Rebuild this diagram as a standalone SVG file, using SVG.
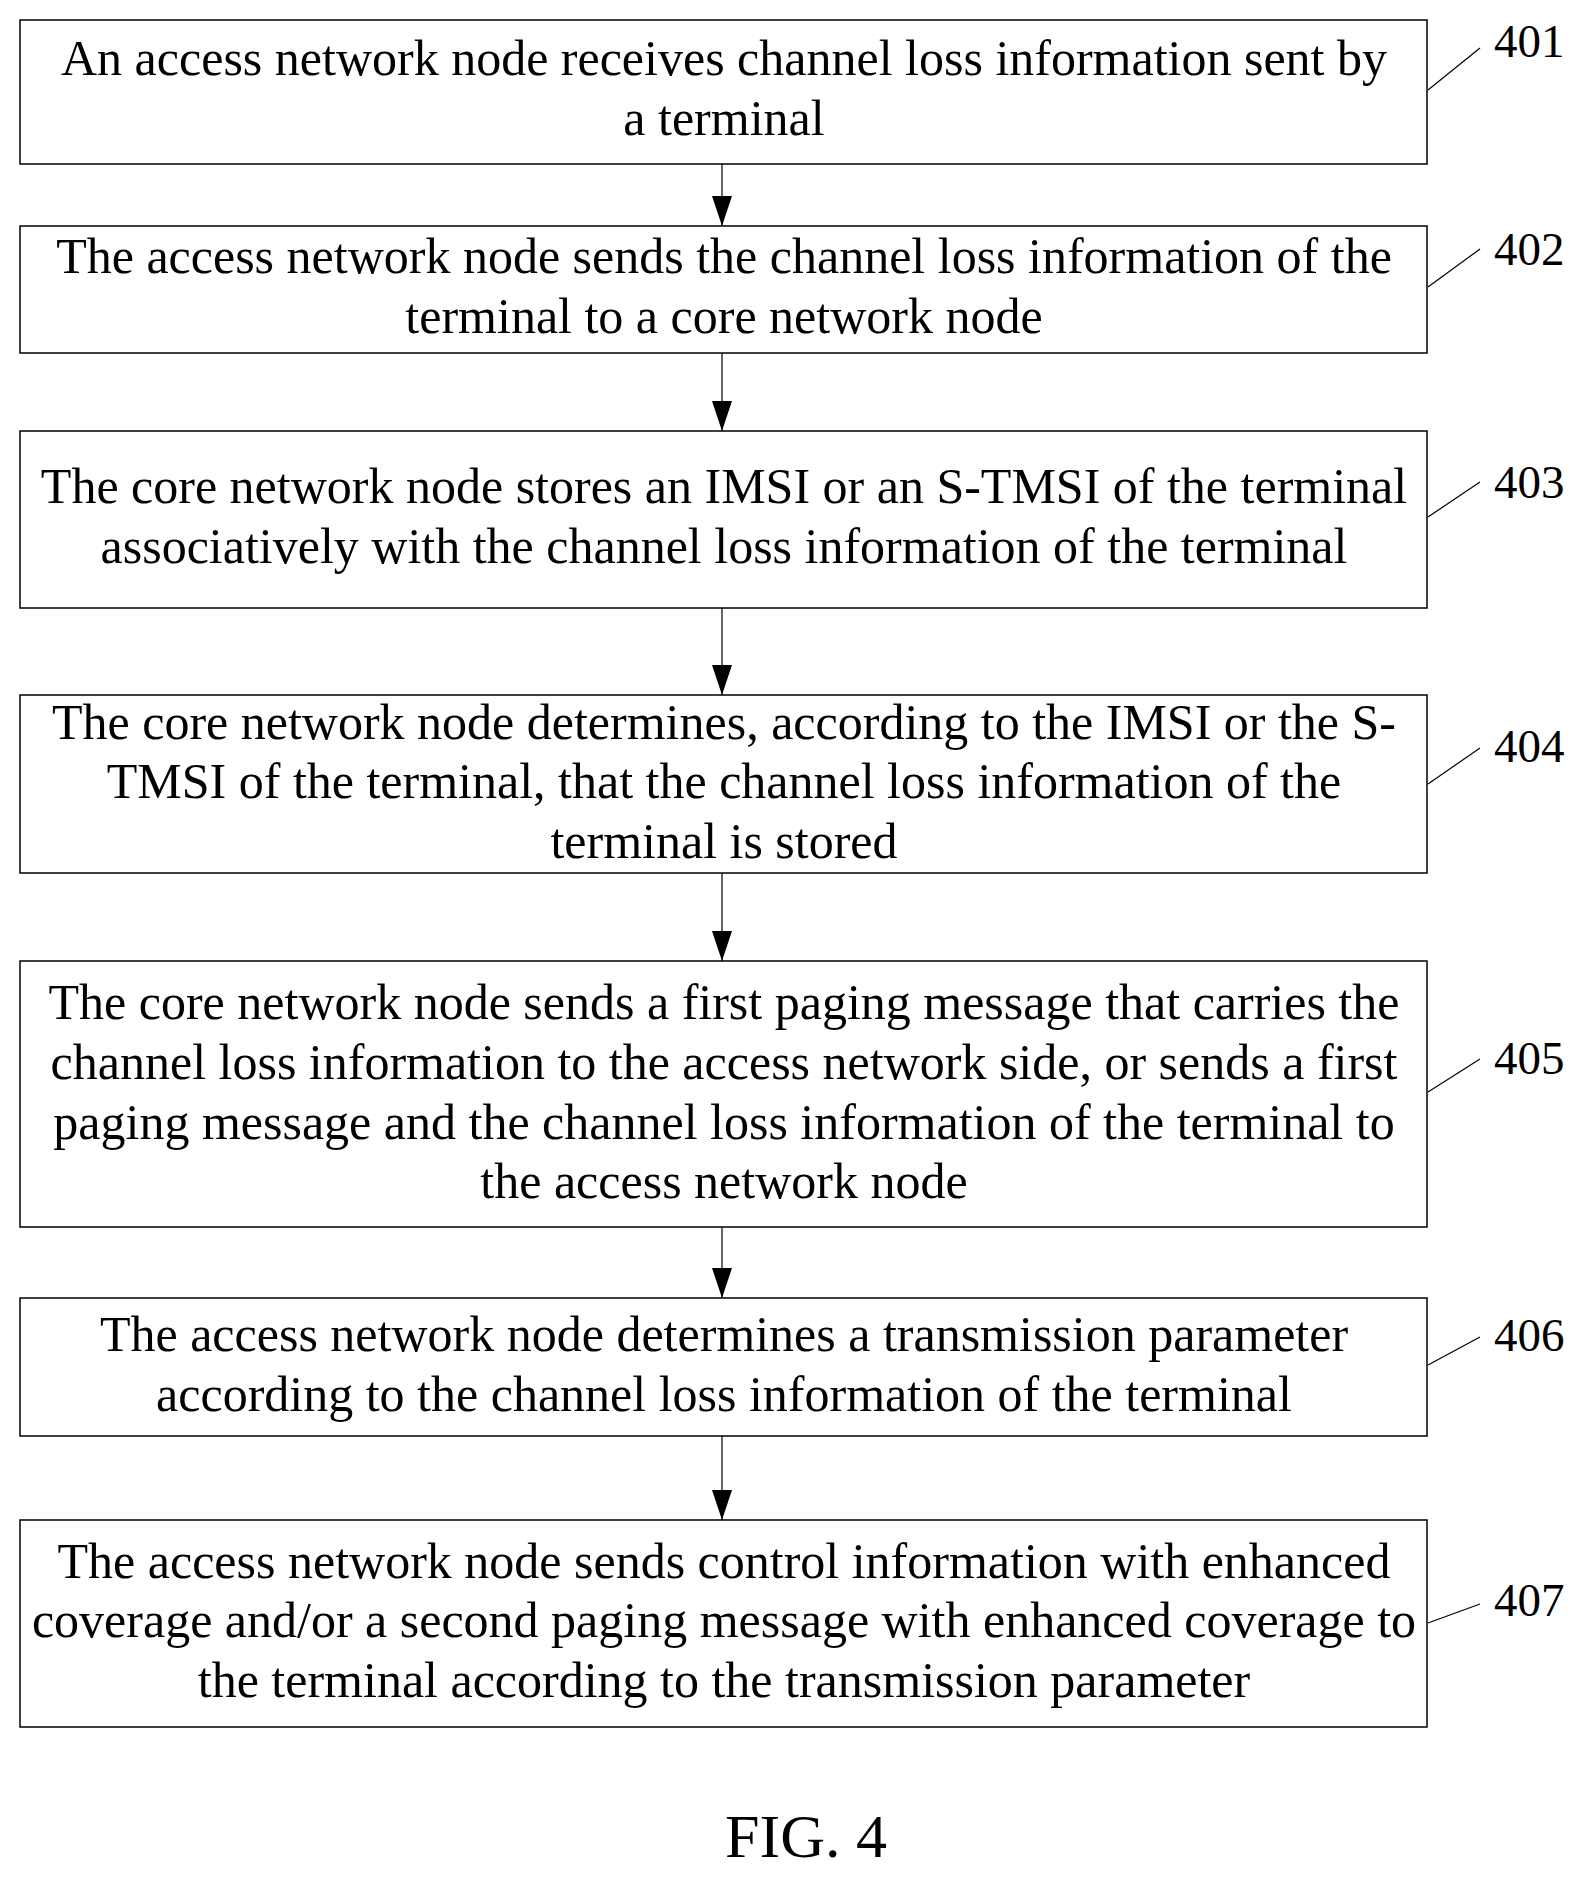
<svg xmlns="http://www.w3.org/2000/svg" width="1592" height="1883" viewBox="0 0 1592 1883">
<style>
rect{fill:#fff;stroke:#000;stroke-width:1.5}
text{font-family:"Liberation Serif",serif;font-size:50px;fill:#000}
.t{text-anchor:middle}
.n{font-size:47px}
.l{stroke:#000;stroke-width:1.2;fill:none}
</style>
<defs>
<marker id="b" markerWidth="30" markerHeight="20" refX="30" refY="10" orient="auto" markerUnits="userSpaceOnUse"><path d="M0,0 L30,10 L0,20 Z" fill="#000"/></marker></defs>
<rect width="1592" height="1883" style="stroke:none"/>
<g id="n401"><rect x="20" y="20" width="1407" height="144"/><text class="t" x="724" y="75">An access network node receives channel loss information sent by</text><text class="t" x="724" y="135">a terminal</text><path class="l" d="M1428,90 L1480,48"/><text class="n" x="1494" y="57">401</text></g>
<g id="n402"><rect x="20" y="226" width="1407" height="127"/><text class="t" x="724" y="273">The access network node sends the channel loss information of the</text><text class="t" x="724" y="333">terminal to a core network node</text><path class="l" d="M1428,287 L1480,249"/><text class="n" x="1494" y="265">402</text></g>
<g id="n403"><rect x="20" y="431" width="1407" height="177"/><text class="t" x="724" y="503">The core network node stores an IMSI or an S-TMSI of the terminal</text><text class="t" x="724" y="563">associatively with the channel loss information of the terminal</text><path class="l" d="M1428,517 L1480,482"/><text class="n" x="1494" y="498">403</text></g>
<g id="n404"><rect x="20" y="695" width="1407" height="178"/><text class="t" x="724" y="739">The core network node determines, according to the IMSI or the S-</text><text class="t" x="724" y="798">TMSI of the terminal, that the channel loss information of the</text><text class="t" x="724" y="858">terminal is stored</text><path class="l" d="M1428,784 L1480,748"/><text class="n" x="1494" y="762">404</text></g>
<g id="n405"><rect x="20" y="961" width="1407" height="266"/><text class="t" x="724" y="1019">The core network node sends a first paging message that carries the</text><text class="t" x="724" y="1079">channel loss information to the access network side, or sends a first</text><text class="t" x="724" y="1139">paging message and the channel loss information of the terminal to</text><text class="t" x="724" y="1198">the access network node</text><path class="l" d="M1428,1092 L1480,1059"/><text class="n" x="1494" y="1074">405</text></g>
<g id="n406"><rect x="20" y="1298" width="1407" height="138"/><text class="t" x="724" y="1351">The access network node determines a transmission parameter</text><text class="t" x="724" y="1411">according to the channel loss information of the terminal</text><path class="l" d="M1428,1365 L1480,1337"/><text class="n" x="1494" y="1351">406</text></g>
<g id="n407"><rect x="20" y="1520" width="1407" height="207"/><text class="t" x="724" y="1578">The access network node sends control information with enhanced</text><text class="t" x="724" y="1637">coverage and/or a second paging message with enhanced coverage to</text><text class="t" x="724" y="1697">the terminal according to the transmission parameter</text><path class="l" d="M1428,1623 L1480,1604"/><text class="n" x="1494" y="1616">407</text></g>
<g id="connectors">
<path class="l" d="M722,164 L722,226" marker-end="url(#b)"/>
<path class="l" d="M722,353 L722,431" marker-end="url(#b)"/>
<path class="l" d="M722,608 L722,695" marker-end="url(#b)"/>
<path class="l" d="M722,873 L722,961" marker-end="url(#b)"/>
<path class="l" d="M722,1227 L722,1298" marker-end="url(#b)"/>
<path class="l" d="M722,1436 L722,1520" marker-end="url(#b)"/>
</g>
<text class="t" x="806" y="1857" style="font-size:62px">FIG. 4</text>
</svg>
